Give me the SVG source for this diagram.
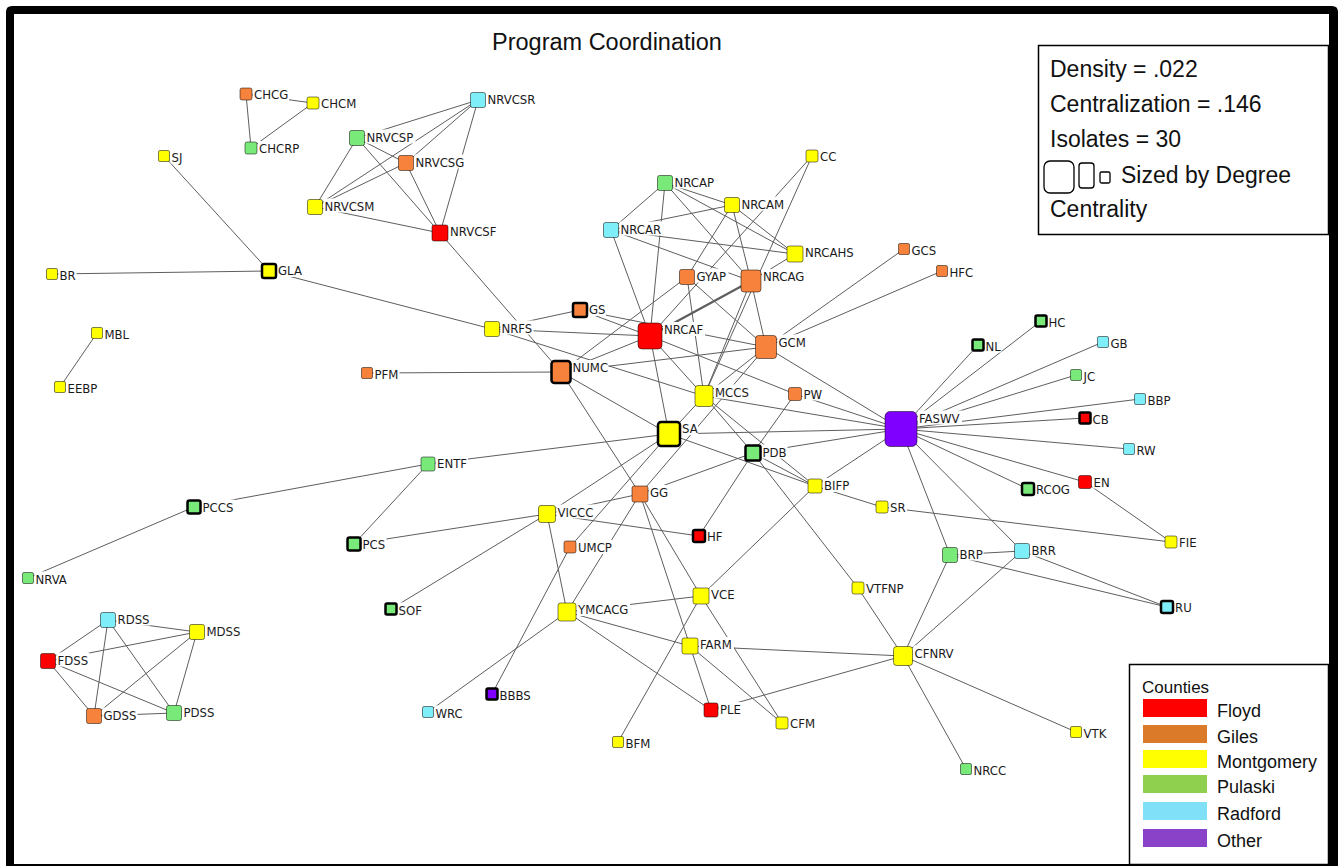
<svg xmlns="http://www.w3.org/2000/svg" width="1342" height="867" viewBox="0 0 1342 867">
<style>
  .e line { stroke: #5e5e5e; stroke-width: 1; }
  .e .dbl { stroke-width: 2.2; }
  .lb { fill: #ffffff; }
  .box { stroke: rgba(0,0,0,0.5); stroke-width: 1; }
  .thick { stroke: #000000; stroke-width: 2.5; }
  .fl { fill: #ff0000; }
  .gi { fill: #f7823c; }
  .mo { fill: #ffff00; }
  .pu { fill: #79ea79; }
  .ra { fill: #7eeef8; }
  .ot { fill: #8000ff; }
  .t { font-family: "DejaVu Sans Condensed", "DejaVu Sans", sans-serif; font-stretch: condensed; font-size: 13px; fill: #1a1a1a; }
  .big { font-family: "Liberation Sans", Arial, sans-serif; fill: #111111; }
  .frame { fill: #000000; fill-rule: evenodd; }
  .panel { fill: #ffffff; stroke: #000000; stroke-width: 1.5; }
  .sz { fill: none; stroke: #000000; stroke-width: 1.3; }
</style>

<rect width="1342" height="867" fill="#ffffff"/>
<path class="frame" d="M12,6 H1332 Q1338,6 1338,12 V866 H6 V12 Q6,6 12,6 Z M14,14 V864 H1329 V14 Z"/>

<text class="big" x="492" y="50" font-size="23.5">Program Coordination</text>

<!-- connectors -->
<g id="edges" class="e">
  <line x1="246" y1="94" x2="313" y2="103"/>
  <line x1="246" y1="94" x2="251" y2="148"/>
  <line x1="313" y1="103" x2="251" y2="148"/>
  <line x1="478" y1="100" x2="357" y2="138"/>
  <line x1="478" y1="100" x2="315" y2="207"/>
  <line x1="478" y1="100" x2="406" y2="163"/>
  <line x1="478" y1="100" x2="440" y2="233"/>
  <line x1="357" y1="138" x2="315" y2="207"/>
  <line x1="357" y1="138" x2="406" y2="163"/>
  <line x1="357" y1="138" x2="440" y2="233"/>
  <line x1="315" y1="207" x2="406" y2="163"/>
  <line x1="315" y1="207" x2="440" y2="233"/>
  <line x1="406" y1="163" x2="440" y2="233"/>
  <line x1="440" y1="233" x2="561" y2="372"/>
  <line x1="164" y1="156" x2="269" y2="271"/>
  <line x1="52" y1="274" x2="269" y2="271"/>
  <line x1="269" y1="271" x2="492" y2="329"/>
  <line x1="97" y1="333" x2="60" y2="387"/>
  <line x1="367" y1="373" x2="561" y2="372"/>
  <line x1="492" y1="329" x2="580" y2="310"/>
  <line x1="492" y1="329" x2="650" y2="336"/>
  <line x1="492" y1="329" x2="704" y2="396"/>
  <line x1="580" y1="310" x2="650" y2="336"/>
  <line x1="580" y1="310" x2="766" y2="347"/>
  <line x1="561" y1="372" x2="687" y2="277"/>
  <line x1="561" y1="372" x2="650" y2="336"/>
  <line x1="561" y1="372" x2="766" y2="347"/>
  <line x1="561" y1="372" x2="669" y2="434"/>
  <line x1="561" y1="372" x2="640" y2="494"/>
  <line class="dbl" x1="650" y1="336" x2="751" y2="281"/>
  <line x1="650" y1="336" x2="704" y2="396"/>
  <line x1="650" y1="336" x2="669" y2="434"/>
  <line x1="650" y1="336" x2="611" y2="230"/>
  <line x1="650" y1="336" x2="665" y2="183"/>
  <line x1="650" y1="336" x2="812" y2="156"/>
  <line x1="650" y1="336" x2="795" y2="394"/>
  <line x1="665" y1="183" x2="611" y2="230"/>
  <line x1="665" y1="183" x2="732" y2="205"/>
  <line x1="665" y1="183" x2="795" y2="254"/>
  <line x1="665" y1="183" x2="751" y2="281"/>
  <line x1="611" y1="230" x2="732" y2="205"/>
  <line x1="611" y1="230" x2="795" y2="254"/>
  <line x1="611" y1="230" x2="751" y2="281"/>
  <line x1="732" y1="205" x2="795" y2="254"/>
  <line x1="732" y1="205" x2="687" y2="277"/>
  <line x1="732" y1="205" x2="751" y2="281"/>
  <line x1="795" y1="254" x2="751" y2="281"/>
  <line x1="812" y1="156" x2="704" y2="396"/>
  <line x1="687" y1="277" x2="704" y2="396"/>
  <line x1="687" y1="277" x2="766" y2="347"/>
  <line x1="751" y1="281" x2="766" y2="347"/>
  <line x1="751" y1="281" x2="704" y2="396"/>
  <line x1="766" y1="347" x2="904" y2="249"/>
  <line x1="766" y1="347" x2="942" y2="271"/>
  <line x1="766" y1="347" x2="901" y2="429"/>
  <line x1="766" y1="347" x2="704" y2="396"/>
  <line x1="766" y1="347" x2="640" y2="494"/>
  <line x1="795" y1="394" x2="753" y2="453"/>
  <line x1="795" y1="394" x2="901" y2="429"/>
  <line x1="704" y1="396" x2="901" y2="429"/>
  <line x1="704" y1="396" x2="753" y2="453"/>
  <line x1="704" y1="396" x2="815" y2="486"/>
  <line x1="669" y1="434" x2="704" y2="396"/>
  <line x1="669" y1="434" x2="901" y2="429"/>
  <line x1="669" y1="434" x2="815" y2="486"/>
  <line x1="669" y1="434" x2="428" y2="464"/>
  <line x1="669" y1="434" x2="547" y2="514"/>
  <line x1="669" y1="434" x2="570" y2="547"/>
  <line x1="753" y1="453" x2="901" y2="429"/>
  <line x1="753" y1="453" x2="815" y2="486"/>
  <line x1="753" y1="453" x2="640" y2="494"/>
  <line x1="753" y1="453" x2="699" y2="536"/>
  <line x1="753" y1="453" x2="858" y2="588"/>
  <line x1="815" y1="486" x2="901" y2="429"/>
  <line x1="815" y1="486" x2="882" y2="507"/>
  <line x1="815" y1="486" x2="701" y2="596"/>
  <line x1="882" y1="507" x2="1171" y2="542"/>
  <line x1="858" y1="588" x2="903" y2="656"/>
  <line x1="901" y1="429" x2="950" y2="555"/>
  <line x1="901" y1="429" x2="1022" y2="551"/>
  <line x1="901" y1="429" x2="1028" y2="489"/>
  <line x1="901" y1="429" x2="1085" y2="482"/>
  <line x1="901" y1="429" x2="1129" y2="449"/>
  <line x1="901" y1="429" x2="1085" y2="418"/>
  <line x1="901" y1="429" x2="1140" y2="399"/>
  <line x1="901" y1="429" x2="1076" y2="375"/>
  <line x1="901" y1="429" x2="1103" y2="342"/>
  <line x1="901" y1="429" x2="1041" y2="321"/>
  <line x1="901" y1="429" x2="978" y2="345"/>
  <line x1="1085" y1="482" x2="1171" y2="542"/>
  <line x1="950" y1="555" x2="1022" y2="551"/>
  <line x1="950" y1="555" x2="1167" y2="607"/>
  <line x1="1022" y1="551" x2="1167" y2="607"/>
  <line x1="950" y1="555" x2="903" y2="656"/>
  <line x1="1022" y1="551" x2="903" y2="656"/>
  <line x1="903" y1="656" x2="1076" y2="732"/>
  <line x1="903" y1="656" x2="966" y2="769"/>
  <line x1="903" y1="656" x2="690" y2="646"/>
  <line x1="903" y1="656" x2="711" y2="710"/>
  <line x1="701" y1="596" x2="567" y2="612"/>
  <line x1="701" y1="596" x2="782" y2="723"/>
  <line x1="701" y1="596" x2="618" y2="742"/>
  <line x1="690" y1="646" x2="567" y2="612"/>
  <line x1="690" y1="646" x2="711" y2="710"/>
  <line x1="690" y1="646" x2="782" y2="723"/>
  <line x1="640" y1="494" x2="690" y2="646"/>
  <line x1="640" y1="494" x2="701" y2="596"/>
  <line x1="640" y1="494" x2="567" y2="612"/>
  <line x1="640" y1="494" x2="547" y2="514"/>
  <line x1="567" y1="612" x2="711" y2="710"/>
  <line x1="567" y1="612" x2="547" y2="514"/>
  <line x1="567" y1="612" x2="428" y2="712"/>
  <line x1="547" y1="514" x2="699" y2="536"/>
  <line x1="547" y1="514" x2="354" y2="544"/>
  <line x1="547" y1="514" x2="391" y2="609"/>
  <line x1="428" y1="464" x2="194" y2="507"/>
  <line x1="428" y1="464" x2="354" y2="544"/>
  <line x1="194" y1="507" x2="28" y2="578"/>
  <line x1="570" y1="547" x2="492" y2="694"/>
  <line x1="108" y1="620" x2="197" y2="632"/>
  <line x1="108" y1="620" x2="48" y2="661"/>
  <line x1="108" y1="620" x2="94" y2="716"/>
  <line x1="108" y1="620" x2="174" y2="713"/>
  <line x1="48" y1="661" x2="197" y2="632"/>
  <line x1="48" y1="661" x2="94" y2="716"/>
  <line x1="48" y1="661" x2="174" y2="713"/>
  <line x1="197" y1="632" x2="94" y2="716"/>
  <line x1="197" y1="632" x2="174" y2="713"/>
  <line x1="94" y1="716" x2="174" y2="713" stroke-width="1.6"/>
</g>

<!-- nodes -->
<g id="n-CHCG"><rect class="lb" x="253" y="87" width="36" height="14"/><rect class="box gi" x="240" y="88" width="12" height="12" rx="2"/><text class="t" x="254" y="99">CHCG</text></g>
<g id="n-CHCM"><rect class="lb" x="320" y="96" width="37" height="14"/><rect class="box mo" x="307" y="97" width="12" height="12" rx="2"/><text class="t" x="321" y="108">CHCM</text></g>
<g id="n-CHCRP"><rect class="lb" x="258" y="141" width="42" height="14"/><rect class="box pu" x="245" y="142" width="12" height="12" rx="2"/><text class="t" x="259" y="153">CHCRP</text></g>
<g id="n-NRVCSP"><rect class="lb" x="365.5" y="129.5" width="50" height="14"/><rect class="box pu" x="349.5" y="130.5" width="15" height="15" rx="2"/><text class="t" x="366.5" y="141.5">NRVCSP</text></g>
<g id="n-NRVCSG"><rect class="lb" x="414.5" y="154.5" width="52" height="14"/><rect class="box gi" x="398.5" y="155.5" width="15" height="15" rx="2"/><text class="t" x="415.5" y="166.5">NRVCSG</text></g>
<g id="n-NRVCSM"><rect class="lb" x="323.5" y="198.5" width="53" height="14"/><rect class="box mo" x="307.5" y="199.5" width="15" height="15" rx="2"/><text class="t" x="324.5" y="210.5">NRVCSM</text></g>
<g id="n-NRVCSF"><rect class="lb" x="449" y="224" width="49" height="14"/><rect class="box fl" x="432" y="225" width="16" height="16" rx="2"/><text class="t" x="450" y="236">NRVCSF</text></g>
<g id="n-NRVCSR"><rect class="lb" x="486.5" y="91.5" width="51" height="14"/><rect class="box ra" x="470.5" y="92.5" width="15" height="15" rx="2"/><text class="t" x="487.5" y="103.5">NRVCSR</text></g>
<g id="n-SJ"><rect class="lb" x="170.5" y="149.5" width="13" height="14"/><rect class="box mo" x="158.5" y="150.5" width="11" height="11" rx="1.5"/><text class="t" x="171.5" y="161.5">SJ</text></g>
<g id="n-GLA"><rect class="lb" x="277" y="263" width="26" height="14"/><rect class="mo thick" x="262" y="264" width="14" height="14" rx="2"/><text class="t" x="278" y="275">GLA</text></g>
<g id="n-BR"><rect class="lb" x="58.5" y="267.5" width="18" height="14"/><rect class="box mo" x="46.5" y="268.5" width="11" height="11" rx="1.5"/><text class="t" x="59.5" y="279.5">BR</text></g>
<g id="n-MBL"><rect class="lb" x="103.5" y="326.5" width="27" height="14"/><rect class="box mo" x="91.5" y="327.5" width="11" height="11" rx="1.5"/><text class="t" x="104.5" y="338.5">MBL</text></g>
<g id="n-EEBP"><rect class="lb" x="66.5" y="380.5" width="32" height="14"/><rect class="box mo" x="54.5" y="381.5" width="11" height="11" rx="1.5"/><text class="t" x="67.5" y="392.5">EEBP</text></g>
<g id="n-PFM"><rect class="lb" x="373.5" y="366.5" width="26" height="14"/><rect class="box gi" x="361.5" y="367.5" width="11" height="11" rx="1.5"/><text class="t" x="374.5" y="378.5">PFM</text></g>
<g id="n-ENTF"><rect class="lb" x="436" y="456" width="32" height="14"/><rect class="box pu" x="421" y="457" width="14" height="14" rx="2"/><text class="t" x="437" y="468">ENTF</text></g>
<g id="n-PCCS"><rect class="lb" x="201.5" y="499.5" width="33" height="14"/><rect class="pu thick" x="187.5" y="500.5" width="13" height="13" rx="2"/><text class="t" x="202.5" y="511.5">PCCS</text></g>
<g id="n-PCS"><rect class="lb" x="361.5" y="536.5" width="25" height="14"/><rect class="pu thick" x="347.5" y="537.5" width="13" height="13" rx="2"/><text class="t" x="362.5" y="548.5">PCS</text></g>
<g id="n-NRVA"><rect class="lb" x="34.5" y="571.5" width="35" height="14"/><rect class="box pu" x="22.5" y="572.5" width="11" height="11" rx="1.5"/><text class="t" x="35.5" y="583.5">NRVA</text></g>
<g id="n-SOF"><rect class="lb" x="397.5" y="602.5" width="25" height="14"/><rect class="pu thick" x="385.5" y="603.5" width="11" height="11" rx="1.5"/><text class="t" x="398.5" y="614.5">SOF</text></g>
<g id="n-RDSS"><rect class="lb" x="116.5" y="611.5" width="34" height="14"/><rect class="box ra" x="100.5" y="612.5" width="15" height="15" rx="2"/><text class="t" x="117.5" y="623.5">RDSS</text></g>
<g id="n-MDSS"><rect class="lb" x="205.5" y="623.5" width="36" height="14"/><rect class="box mo" x="189.5" y="624.5" width="15" height="15" rx="2"/><text class="t" x="206.5" y="635.5">MDSS</text></g>
<g id="n-FDSS"><rect class="lb" x="56.5" y="652.5" width="33" height="14"/><rect class="box fl" x="40.5" y="653.5" width="15" height="15" rx="2"/><text class="t" x="57.5" y="664.5">FDSS</text></g>
<g id="n-GDSS"><rect class="lb" x="102.5" y="707.5" width="35" height="14"/><rect class="box gi" x="86.5" y="708.5" width="15" height="15" rx="2"/><text class="t" x="103.5" y="719.5">GDSS</text></g>
<g id="n-PDSS"><rect class="lb" x="182.5" y="704.5" width="33" height="14"/><rect class="box pu" x="166.5" y="705.5" width="15" height="15" rx="2"/><text class="t" x="183.5" y="716.5">PDSS</text></g>
<g id="n-WRC"><rect class="lb" x="434.5" y="705.5" width="30" height="14"/><rect class="box ra" x="422.5" y="706.5" width="11" height="11" rx="1.5"/><text class="t" x="435.5" y="717.5">WRC</text></g>
<g id="n-BBBS"><rect class="lb" x="498.5" y="687.5" width="34" height="14"/><rect class="ot thick" x="486.5" y="688.5" width="11" height="11" rx="1.5"/><text class="t" x="499.5" y="699.5">BBBS</text></g>
<g id="n-BFM"><rect class="lb" x="624.5" y="735.5" width="27" height="14"/><rect class="box mo" x="612.5" y="736.5" width="11" height="11" rx="1.5"/><text class="t" x="625.5" y="747.5">BFM</text></g>
<g id="n-PLE"><rect class="lb" x="719" y="702" width="23" height="14"/><rect class="box fl" x="704" y="703" width="14" height="14" rx="2"/><text class="t" x="720" y="714">PLE</text></g>
<g id="n-CFM"><rect class="lb" x="789" y="716" width="27" height="14"/><rect class="box mo" x="776" y="717" width="12" height="12" rx="2"/><text class="t" x="790" y="728">CFM</text></g>
<g id="n-FARM"><rect class="lb" x="699" y="637" width="35" height="14"/><rect class="box mo" x="682" y="638" width="16" height="16" rx="2"/><text class="t" x="700" y="649">FARM</text></g>
<g id="n-VCE"><rect class="lb" x="710" y="587" width="26" height="14"/><rect class="box mo" x="693" y="588" width="16" height="16" rx="2"/><text class="t" x="711" y="599">VCE</text></g>
<g id="n-YMCACG"><rect class="lb" x="577" y="602" width="53" height="14"/><rect class="box mo" x="558" y="603" width="18" height="18" rx="2.5"/><text class="t" x="578" y="614">YMCACG</text></g>
<g id="n-VTFNP"><rect class="lb" x="865" y="581" width="40" height="14"/><rect class="box mo" x="852" y="582" width="12" height="12" rx="2"/><text class="t" x="866" y="593">VTFNP</text></g>
<g id="n-CFNRV"><rect class="lb" x="913.5" y="645.5" width="42" height="14"/><rect class="box mo" x="893.5" y="646.5" width="19" height="19" rx="3"/><text class="t" x="914.5" y="657.5">CFNRV</text></g>
<g id="n-VTK"><rect class="lb" x="1082.5" y="725.5" width="25" height="14"/><rect class="box mo" x="1070.5" y="726.5" width="11" height="11" rx="1.5"/><text class="t" x="1083.5" y="737.5">VTK</text></g>
<g id="n-NRCC"><rect class="lb" x="972.5" y="762.5" width="35" height="14"/><rect class="box pu" x="960.5" y="763.5" width="11" height="11" rx="1.5"/><text class="t" x="973.5" y="774.5">NRCC</text></g>
<g id="n-RU"><rect class="lb" x="1174" y="600" width="19" height="14"/><rect class="ra thick" x="1161" y="601" width="12" height="12" rx="2"/><text class="t" x="1175" y="612">RU</text></g>
<g id="n-BRP"><rect class="lb" x="958.5" y="546.5" width="25" height="14"/><rect class="box pu" x="942.5" y="547.5" width="15" height="15" rx="2"/><text class="t" x="959.5" y="558.5">BRP</text></g>
<g id="n-BRR"><rect class="lb" x="1030.5" y="542.5" width="26" height="14"/><rect class="box ra" x="1014.5" y="543.5" width="15" height="15" rx="2"/><text class="t" x="1031.5" y="554.5">BRR</text></g>
<g id="n-FIE"><rect class="lb" x="1178" y="535" width="20" height="14"/><rect class="box mo" x="1165" y="536" width="12" height="12" rx="2"/><text class="t" x="1179" y="547">FIE</text></g>
<g id="n-SR"><rect class="lb" x="889" y="500" width="18" height="14"/><rect class="box mo" x="876" y="501" width="12" height="12" rx="2"/><text class="t" x="890" y="512">SR</text></g>
<g id="n-BIFP"><rect class="lb" x="823" y="478" width="27" height="14"/><rect class="box mo" x="808" y="479" width="14" height="14" rx="2"/><text class="t" x="824" y="490">BIFP</text></g>
<g id="n-PDB"><rect class="lb" x="761.5" y="444.5" width="26" height="14"/><rect class="pu thick" x="745.5" y="445.5" width="15" height="15" rx="2"/><text class="t" x="762.5" y="456.5">PDB</text></g>
<g id="n-FASWV"><rect class="lb" x="918" y="410.5" width="44" height="14"/><rect class="box ot" x="885" y="411.5" width="32" height="35" rx="5"/><text class="t" x="919" y="422.5">FASWV</text></g>
<g id="n-HF"><rect class="lb" x="706" y="529" width="18" height="14"/><rect class="fl thick" x="693" y="530" width="12" height="12" rx="2"/><text class="t" x="707" y="541">HF</text></g>
<g id="n-RCOG"><rect class="lb" x="1035" y="482" width="37" height="14"/><rect class="pu thick" x="1022" y="483" width="12" height="12" rx="2"/><text class="t" x="1036" y="494">RCOG</text></g>
<g id="n-EN"><rect class="lb" x="1092.5" y="474.5" width="18" height="14"/><rect class="box fl" x="1078.5" y="475.5" width="13" height="13" rx="2"/><text class="t" x="1093.5" y="486.5">EN</text></g>
<g id="n-RW"><rect class="lb" x="1135.5" y="442.5" width="22" height="14"/><rect class="box ra" x="1123.5" y="443.5" width="11" height="11" rx="1.5"/><text class="t" x="1136.5" y="454.5">RW</text></g>
<g id="n-CB"><rect class="lb" x="1091.5" y="411.5" width="18" height="14"/><rect class="fl thick" x="1079.5" y="412.5" width="11" height="11" rx="1.5"/><text class="t" x="1092.5" y="423.5">CB</text></g>
<g id="n-BBP"><rect class="lb" x="1146.5" y="392.5" width="25" height="14"/><rect class="box ra" x="1134.5" y="393.5" width="11" height="11" rx="1.5"/><text class="t" x="1147.5" y="404.5">BBP</text></g>
<g id="n-JC"><rect class="lb" x="1082.5" y="368.5" width="14" height="14"/><rect class="box pu" x="1070.5" y="369.5" width="11" height="11" rx="1.5"/><text class="t" x="1083.5" y="380.5">JC</text></g>
<g id="n-GB"><rect class="lb" x="1109.5" y="335.5" width="19" height="14"/><rect class="box ra" x="1097.5" y="336.5" width="11" height="11" rx="1.5"/><text class="t" x="1110.5" y="347.5">GB</text></g>
<g id="n-NL"><rect class="lb" x="984.5" y="338.5" width="17" height="14"/><rect class="pu thick" x="972.5" y="339.5" width="11" height="11" rx="1.5"/><text class="t" x="985.5" y="350.5">NL</text></g>
<g id="n-HC"><rect class="lb" x="1047.5" y="314.5" width="19" height="14"/><rect class="pu thick" x="1035.5" y="315.5" width="11" height="11" rx="1.5"/><text class="t" x="1048.5" y="326.5">HC</text></g>
<g id="n-GCS"><rect class="lb" x="910.5" y="242.5" width="25" height="14"/><rect class="box gi" x="898.5" y="243.5" width="11" height="11" rx="1.5"/><text class="t" x="911.5" y="254.5" font-size="12">GCS</text></g>
<g id="n-HFC"><rect class="lb" x="948.5" y="264.5" width="24" height="14"/><rect class="box gi" x="936.5" y="265.5" width="11" height="11" rx="1.5"/><text class="t" x="949.5" y="276.5" font-size="12">HFC</text></g>
<g id="n-CC"><rect class="lb" x="819" y="149" width="18" height="14"/><rect class="box mo" x="806" y="150" width="12" height="12" rx="2"/><text class="t" x="820" y="161">CC</text></g>
<g id="n-NRCAP"><rect class="lb" x="673.5" y="174.5" width="42" height="14"/><rect class="box pu" x="657.5" y="175.5" width="15" height="15" rx="2"/><text class="t" x="674.5" y="186.5">NRCAP</text></g>
<g id="n-NRCAM"><rect class="lb" x="740.5" y="196.5" width="45" height="14"/><rect class="box mo" x="724.5" y="197.5" width="15" height="15" rx="2"/><text class="t" x="741.5" y="208.5">NRCAM</text></g>
<g id="n-NRCAR"><rect class="lb" x="619.5" y="221.5" width="43" height="14"/><rect class="box ra" x="603.5" y="222.5" width="15" height="15" rx="2"/><text class="t" x="620.5" y="233.5">NRCAR</text></g>
<g id="n-NRCAHS"><rect class="lb" x="804" y="245" width="51" height="14"/><rect class="box mo" x="787" y="246" width="16" height="16" rx="2"/><text class="t" x="805" y="257">NRCAHS</text></g>
<g id="n-GYAP"><rect class="lb" x="695.5" y="268.5" width="33" height="14"/><rect class="box gi" x="679.5" y="269.5" width="15" height="15" rx="2"/><text class="t" x="696.5" y="280.5">GYAP</text></g>
<g id="n-NRCAG"><rect class="lb" x="762" y="269" width="44" height="14"/><rect class="box gi" x="741" y="270" width="20" height="22" rx="3"/><text class="t" x="763" y="281">NRCAG</text></g>
<g id="n-GS"><rect class="lb" x="588" y="302" width="18" height="14"/><rect class="gi thick" x="573" y="303" width="14" height="14" rx="2"/><text class="t" x="589" y="314">GS</text></g>
<g id="n-NRFS"><rect class="lb" x="500.5" y="320.5" width="33" height="14"/><rect class="box mo" x="484.5" y="321.5" width="15" height="15" rx="2"/><text class="t" x="501.5" y="332.5">NRFS</text></g>
<g id="n-NRCAF"><rect class="lb" x="663" y="322" width="42" height="14"/><rect class="box fl" x="638" y="323" width="24" height="26" rx="4"/><text class="t" x="664" y="334">NRCAF</text></g>
<g id="n-GCM"><rect class="lb" x="777.5" y="334.5" width="29" height="14"/><rect class="box gi" x="755.5" y="335.5" width="21" height="23" rx="3"/><text class="t" x="778.5" y="346.5">GCM</text></g>
<g id="n-NUMC"><rect class="lb" x="571.5" y="360" width="37" height="14"/><rect class="gi thick" x="551.5" y="361" width="19" height="22" rx="3"/><text class="t" x="572.5" y="372">NUMC</text></g>
<g id="n-MCCS"><rect class="lb" x="714" y="384.5" width="36" height="14"/><rect class="box mo" x="695" y="385.5" width="18" height="21" rx="3"/><text class="t" x="715" y="396.5">MCCS</text></g>
<g id="n-PW"><rect class="lb" x="802.5" y="386.5" width="21" height="14"/><rect class="box gi" x="788.5" y="387.5" width="13" height="13" rx="2"/><text class="t" x="803.5" y="398.5">PW</text></g>
<g id="n-SA"><rect class="lb" x="681" y="421" width="17" height="14"/><rect class="mo thick" x="658" y="422" width="22" height="24" rx="3"/><text class="t" x="682" y="433">SA</text></g>
<g id="n-GG"><rect class="lb" x="649" y="485" width="20" height="14"/><rect class="box gi" x="632" y="486" width="16" height="16" rx="2"/><text class="t" x="650" y="497">GG</text></g>
<g id="n-VICCC"><rect class="lb" x="556.5" y="504.5" width="38" height="14"/><rect class="box mo" x="538.5" y="505.5" width="17" height="17" rx="2.5"/><text class="t" x="557.5" y="516.5">VICCC</text></g>
<g id="n-UMCP"><rect class="lb" x="577" y="540" width="36" height="14"/><rect class="box gi" x="564" y="541" width="12" height="12" rx="2"/><text class="t" x="578" y="552">UMCP</text></g>

<!-- network statistics panel -->
<g id="stats">
  <rect class="panel" x="1038.5" y="45.5" width="290" height="189"/>
  <text class="big" font-size="23" x="1050" y="77">Density = .022</text>
  <text class="big" font-size="23" x="1050" y="112">Centralization = .146</text>
  <text class="big" font-size="23" x="1050" y="147">Isolates = 30</text>
  <rect class="sz" x="1044" y="161" width="30" height="32" rx="6"/>
  <rect class="sz" x="1079" y="163" width="15" height="25" rx="3"/>
  <rect class="sz" x="1100" y="172" width="10" height="11" rx="1.5"/>
  <text class="big" font-size="23" x="1121" y="183">Sized by Degree</text>
  <text class="big" font-size="23" x="1050" y="217">Centrality</text>
</g>

<!-- county colour key -->
<g id="legend">
  <rect class="panel" x="1129.5" y="664.5" width="199" height="200"/>
  <text class="big" font-size="17" x="1142" y="693">Counties</text>
  <rect x="1143" y="699" width="64" height="18" fill="#ff0000"/>
  <rect x="1143" y="725" width="64" height="18" fill="#db7b29"/>
  <rect x="1143" y="750" width="64" height="18" fill="#ffff00"/>
  <rect x="1143" y="775" width="64" height="18" fill="#8fd14f"/>
  <rect x="1143" y="802" width="64" height="18" fill="#7fe0f8"/>
  <rect x="1143" y="829" width="64" height="18" fill="#8a42c8"/>
  <text class="big" font-size="18" x="1217" y="717">Floyd</text>
  <text class="big" font-size="18" x="1217" y="743">Giles</text>
  <text class="big" font-size="18" x="1217" y="768">Montgomery</text>
  <text class="big" font-size="18" x="1217" y="793">Pulaski</text>
  <text class="big" font-size="18" x="1217" y="820">Radford</text>
  <text class="big" font-size="18" x="1217" y="847">Other</text>
</g>
</svg>
